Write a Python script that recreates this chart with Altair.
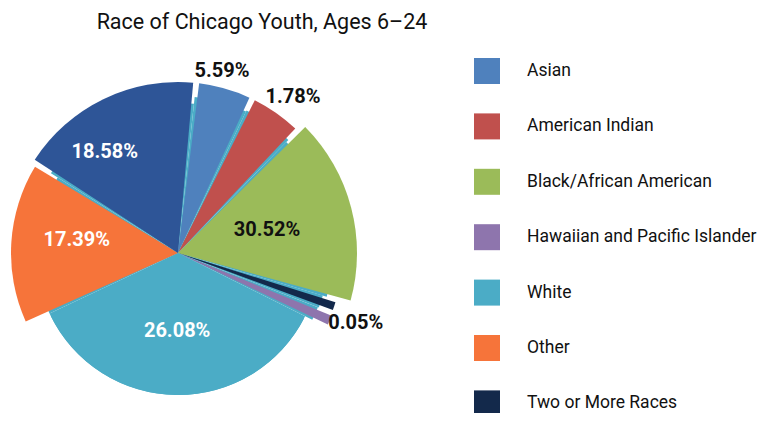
import math
import altair as alt
import pandas as pd

# ---------------- data ----------------
TITLE = "Race of Chicago Youth, Ages 6–24"
CATEGORIES = ["Asian", "American Indian", "Black/African American", "Two or More Races",
              "Hawaiian and Pacific Islander", "White", "Other", "Unlisted"]
# slice sizes (percent of the circle) as drawn in the picture
SHARES = [5.44, 5.17, 17.25, 1.33, 1.47, 35.64, 15.92, 17.78]
# printed labels
LABELS = ["5.59%", "1.78%", "30.52%", "", "0.05%", "26.08%", "17.39%", "18.58%"]
LEGEND_ORDER = ["Asian", "American Indian", "Black/African American",
                "Hawaiian and Pacific Islander", "White", "Other", "Two or More Races"]

# ---------------- style ----------------
COLORS = ["#4F81BD", "#C0504D", "#9BBB59", "#13294B", "#8E75AD", "#4BACC6", "#F6743A", "#2E5597"]
OUTER_R = [171, 171, 179, 165, 166, 142, 167, 171]
UNDER_R = [157, 158, 155, 151, 150, 142, 142, 150]
LABEL_R = [187, 194, 92, 0, 191, 78, 102, 125]
LABEL_NUDGE = [-2.3, 1.4, 0, 0, -2.3, 0, 3.9, -10]
LABEL_COLOR = ["#111111", "#111111", "#111111", "#111111", "#111111", "#FFFFFF", "#FFFFFF", "#FFFFFF"]
FONT = "Roboto"
CX, CY = 170, 245
A0 = 6.1 * math.pi / 180
PAD = 2.0 * math.pi / 180
CYAN = "#4BACC6"

df = pd.DataFrame({
    "idx": list(range(len(CATEGORIES))),
    "cat": CATEGORIES,
    "share": SHARES,
    "label": LABELS,
    "r": OUTER_R,
    "ur": UNDER_R,
    "lr": LABEL_R,
    "nudge": LABEL_NUDGE,
    "lc": LABEL_COLOR,
})

base = alt.Chart(df).transform_joinaggregate(
    total="sum(share)"
).transform_window(
    cum="sum(share)", sort=[alt.SortField("idx")], frame=[None, 0]
).transform_calculate(
    t0=f"{A0} + (datum.cum - datum.share)/datum.total*2*PI",
    t1=f"{A0} + datum.cum/datum.total*2*PI",
).transform_calculate(
    p0=f"datum.t0 + {PAD/2}",
    p1=f"datum.t1 - {PAD/2}",
    ang="(datum.t0 + datum.t1)/2 + datum.nudge*PI/180",
).transform_calculate(
    lx=f"{CX} + datum.lr*sin(datum.ang)",
    ly=f"{CY} - datum.lr*cos(datum.ang)",
)

under = base.mark_arc().encode(
    theta=alt.Theta("t0:Q", scale=None),
    theta2=alt.Theta2("t1:Q"),
    radius=alt.Radius("ur:Q", scale=None),
    color=alt.value(CYAN),
    x=alt.value(CX), y=alt.value(CY),
)

slices = base.mark_arc().encode(
    theta=alt.Theta("p0:Q", scale=None),
    theta2=alt.Theta2("p1:Q"),
    radius=alt.Radius("r:Q", scale=None),
    color=alt.Color("cat:N", scale=alt.Scale(domain=CATEGORIES, range=COLORS),
                    legend=alt.Legend(title=None, orient="none", legendX=466, legendY=50,
                                      values=LEGEND_ORDER, symbolType="square", symbolSize=676,
                                      symbolStrokeWidth=0, symbolOpacity=1,
                                      labelFont=FONT, labelFontSize=17.5, labelColor="#111111",
                                      labelOffset=27, rowPadding=29.4, padding=0, labelLimit=320)),
    x=alt.value(CX), y=alt.value(CY),
)

labels = base.transform_filter("datum.label != ''").mark_text(
    font=FONT, fontSize=20, fontWeight="bold", align="center", baseline="middle"
).encode(
    x=alt.X("lx:Q", scale=None),
    y=alt.Y("ly:Q", scale=None),
    text="label:N",
    color=alt.Color("lc:N", scale=None),
)

title = alt.Chart(pd.DataFrame({"t": [TITLE]})).mark_text(
    font=FONT, fontSize=21.5, align="center", baseline="middle", color="#111111"
).encode(text="t:N", x=alt.value(254), y=alt.value(15))

chart = alt.layer(under, slices, labels, title).properties(
    width=749, height=405, padding=0, autosize="none"
).configure_view(stroke=None)

chart.save("out.html", embed_options={"renderer": "svg", "actions": False})
